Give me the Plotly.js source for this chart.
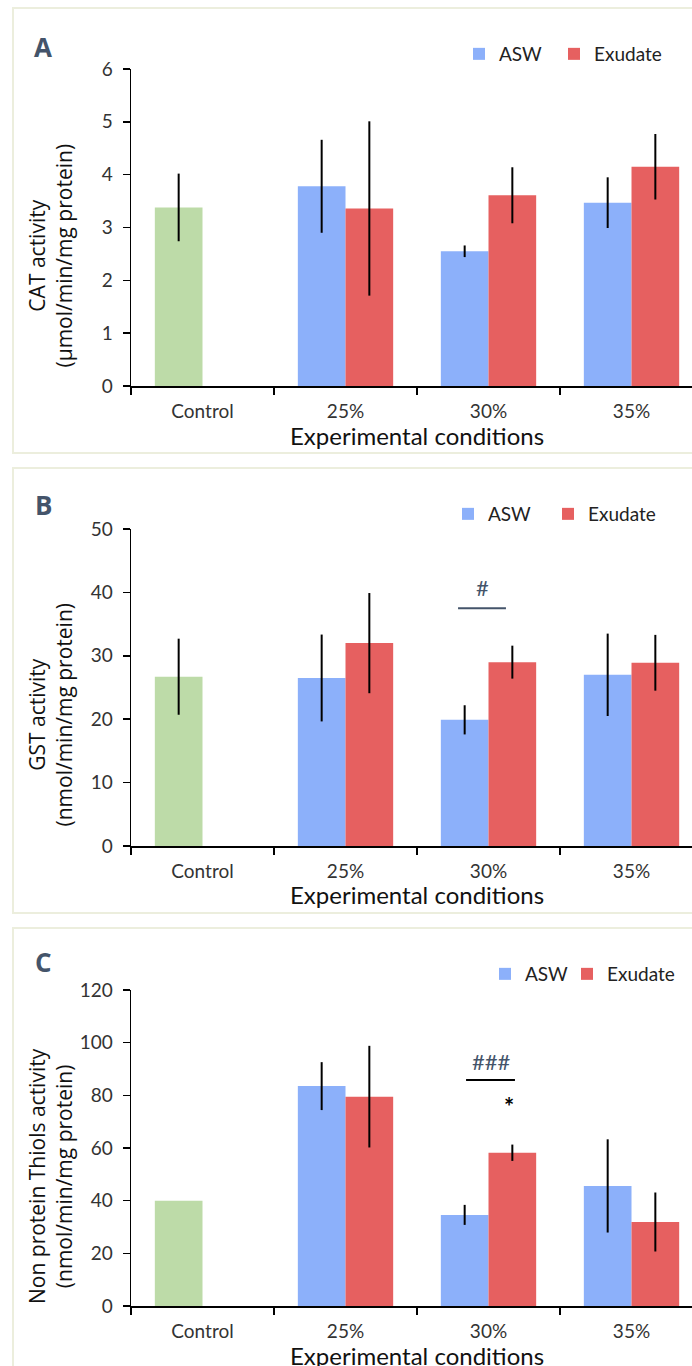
<!DOCTYPE html>
<html>
<head>
<meta charset="utf-8">
<script src="https://cdn.plot.ly/plotly-3.0.1.min.js"></script>
<style>
html,body{margin:0;padding:0;background:#fff;overflow:hidden;}
#chart{width:692px;height:1366px;}
</style>
</head>
<body>
<div id="chart"></div>
<script>
// ---------------- DATA ----------------
const categories = ['Control', '25%', '30%', '35%'];
const treatments = ['25%', '30%', '35%'];
const seriesNames = ['ASW', 'Exudate'];

// Panel A: CAT activity (µmol/min/mg protein)
const catControl = [3.38];
const catControlErr = [0.64];
const catASW = [3.78, 2.55, 3.47];
const catASWErr = [0.88, 0.11, 0.48];
const catExudate = [3.36, 3.61, 4.15];
const catExudateErr = [1.65, 0.53, 0.62];

// Panel B: GST activity (nmol/min/mg protein)
const gstControl = [26.7];
const gstControlErr = [6.0];
const gstASW = [26.5, 19.9, 27.0];
const gstASWErr = [6.85, 2.3, 6.5];
const gstExudate = [32.0, 29.0, 28.9];
const gstExudateErr = [7.9, 2.6, 4.4];

// Panel C: Non protein thiols (nmol/min/mg protein)
const nptControl = [40.0];
const nptASW = [83.5, 34.6, 45.6];
const nptASWErr = [9.1, 3.8, 17.7];
const nptExudate = [79.5, 58.2, 31.9];
const nptExudateErr = [19.3, 3.1, 11.2];

const panelLetters = ['A', 'B', 'C'];
const yTitles = [
  ['CAT activity', '(μmol/min/mg protein)'],
  ['GST activity', '(nmol/min/mg protein)'],
  ['Non protein Thiols activity', '(nmol/min/mg protein)']
];
const xTitle = 'Experimental conditions';

// ---------------- STYLE / LAYOUT ----------------
const W = 692, H = 1366;
const px = v => v / W;
const py = v => 1 - v / H;
const GREEN = '#BDDBA8', BLUE = '#8CB0FA', RED = '#E66060';
const SLATE = '#44546A';
const FONT = 'Lato, "Liberation Sans", sans-serif';
const TFONT = '"Open Sans", "Noto Sans", sans-serif';

const panels = [
  {ax: '', zero: 386, top: 69, range: [0, 6], dtick: 1, box: [8, 453], letterY: 47, swatches: [477, 572], legY: 54,
   control: catControl, controlErr: catControlErr, asw: catASW, aswErr: catASWErr, exu: catExudate, exuErr: catExudateErr},
  {ax: '2', zero: 846, top: 529, range: [0, 50], dtick: 10, box: [468, 913], letterY: 505, swatches: [466, 566], legY: 514,
   control: gstControl, controlErr: gstControlErr, asw: gstASW, aswErr: gstASWErr, exu: gstExudate, exuErr: gstExudateErr},
  {ax: '3', zero: 1306, top: 990, range: [0, 120], dtick: 20, box: [928, 1400], letterY: 962, swatches: [503, 585], legY: 974,
   control: nptControl, controlErr: null, asw: nptASW, aswErr: nptASWErr, exu: nptExudate, exuErr: nptExudateErr}
];

const BW = 1 / 3;
const traces = [];
const layout = {
  width: W, height: H,
  margin: {l: 0, r: 0, t: 0, b: 0, autoexpand: false},
  paper_bgcolor: '#fff', plot_bgcolor: 'rgba(0,0,0,0)',
  barmode: 'overlay',
  showlegend: true,
  annotations: [],
  shapes: []
};

function errObj(arr) {
  if (!arr) return {visible: false};
  return {type: 'data', array: arr, visible: true, color: '#000', thickness: 2, width: 0};
}

panels.forEach((p, i) => {
  const xa = 'x' + p.ax, ya = 'y' + p.ax;
  const legA = 'legend' + (i * 2 === 0 ? '' : i * 2 + 1);
  const legE = 'legend' + (i * 2 + 2);
  traces.push({
    type: 'bar', x: [categories[0]], y: p.control, xaxis: xa, yaxis: ya,
    offset: -BW, width: BW, marker: {color: GREEN, line: {width: 0}},
    error_y: errObj(p.controlErr), showlegend: false, hoverinfo: 'skip'
  });
  traces.push({
    type: 'bar', name: seriesNames[0], x: treatments, y: p.asw, xaxis: xa, yaxis: ya,
    offset: -BW, width: BW, marker: {color: BLUE, line: {width: 0}},
    error_y: errObj(p.aswErr), legend: legA
  });
  traces.push({
    type: 'bar', name: seriesNames[1], x: treatments, y: p.exu, xaxis: xa, yaxis: ya,
    offset: 0, width: BW, marker: {color: RED, line: {width: 0}},
    error_y: errObj(p.exuErr), legend: legE
  });

  layout['xaxis' + p.ax] = {
    domain: [px(131), 1], anchor: ya,
    type: 'category', categoryorder: 'array', categoryarray: categories,
    range: [-0.5, 3.423],
    showline: true, linecolor: '#000', linewidth: 1.5,
    ticks: 'outside', tickson: 'boundaries', ticklen: 7, tickwidth: 1.5, tickcolor: '#000',
    ticklabelstandoff: 8,
    tickfont: {family: FONT, size: 19, color: '#333'},
    showgrid: false, zeroline: false, fixedrange: true
  };
  layout['yaxis' + p.ax] = {
    domain: [py(p.zero), py(p.top)], anchor: xa,
    range: p.range, dtick: p.dtick,
    showline: true, linecolor: '#000', linewidth: 1.5,
    ticks: 'outside', ticklen: 7, tickwidth: 1.5, tickcolor: '#000',
    ticklabelstandoff: 6,
    tickfont: {family: FONT, size: 19, color: '#333'},
    showgrid: false, zeroline: false, fixedrange: true
  };
  [legA, legE].forEach((lg, k) => {
    layout[lg] = {
      x: px(p.swatches[k] - 18), y: py(p.legY), xanchor: 'left', yanchor: 'middle',
      orientation: 'h', bgcolor: 'rgba(0,0,0,0)', borderwidth: 0,
      font: {family: FONT, size: 19, color: '#222'}
    };
  });

  // panel border
  layout.shapes.push({
    type: 'rect', xref: 'paper', yref: 'paper',
    x0: px(13), x1: px(720), y0: py(p.box[1]), y1: py(p.box[0]),
    line: {color: '#ECEEDD', width: 2}, fillcolor: 'rgba(0,0,0,0)', layer: 'below'
  });
  // panel letter
  layout.annotations.push({
    xref: 'paper', yref: 'paper', x: px(43), y: py(p.letterY),
    xanchor: 'center', yanchor: 'middle', showarrow: false,
    text: '<b>' + panelLetters[i] + '</b>',
    font: {family: TFONT, size: 26, color: SLATE}
  });
  // x title
  layout.annotations.push({
    xref: 'paper', yref: 'paper', x: px(417), y: py(p.zero + 49),
    xanchor: 'center', yanchor: 'middle', showarrow: false,
    text: xTitle, font: {family: FONT, size: 24, color: '#111'}
  });
  // y title
  layout.annotations.push({
    xref: 'paper', yref: 'paper', x: px(50), y: py((p.zero + p.top) / 2 + 28),
    xanchor: 'center', yanchor: 'middle', showarrow: false, textangle: -90,
    text: yTitles[i][0] + '<br>' + yTitles[i][1],
    font: {family: TFONT, size: 21, color: '#111'}
  });
});

// significance markers
layout.shapes.push({type: 'line', xref: 'x2', yref: 'y2', x0: 1.787, x1: 2.122, y0: 37.5, y1: 37.5,
  line: {color: SLATE, width: 2}});
layout.annotations.push({xref: 'x2', yref: 'y2', x: 1.955, y: 40.8, showarrow: false, xanchor: 'center', yanchor: 'middle',
  text: '#', font: {family: FONT, size: 22, color: SLATE}});
layout.shapes.push({type: 'line', xref: 'x3', yref: 'y3', x0: 1.843, x1: 2.185, y0: 85.8, y1: 85.8,
  line: {color: '#000', width: 2}});
layout.annotations.push({xref: 'x3', yref: 'y3', x: 2.024, y: 92.7, showarrow: false, xanchor: 'center', yanchor: 'middle',
  text: '###', font: {family: FONT, size: 22, color: SLATE}});
layout.annotations.push({xref: 'x3', yref: 'y3', x: 2.143, y: 75.8, showarrow: false, xanchor: 'center', yanchor: 'middle',
  text: '<b>*</b>', font: {family: FONT, size: 24, color: '#000'}});

Plotly.newPlot('chart', traces, layout, {displayModeBar: false, staticPlot: true});
</script>
</body>
</html>
